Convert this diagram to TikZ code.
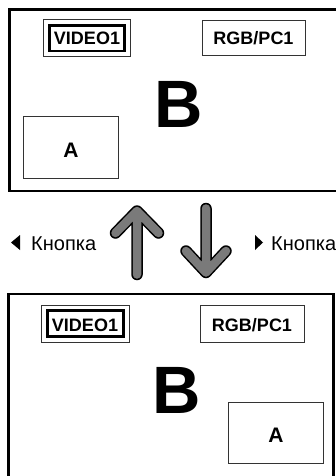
\documentclass[tikz,border=0pt]{standalone}
\usepackage{fontspec}
\setmainfont{Liberation Sans}
\begin{document}
\begin{tikzpicture}[x=1pt,y=-1pt,
  screen/.style={draw=black,line width=2.5pt},
  thinbox/.style={draw=black!80,line width=1pt},
  thickbox/.style={draw=black,line width=2.2pt},
  lbl/.style={inner sep=0pt,anchor=base,font=\bfseries\fontsize{18}{20}\selectfont},
  big/.style={inner sep=0pt,anchor=base,font=\bfseries\fontsize{67}{70}\selectfont},
  alabel/.style={inner sep=0pt,anchor=base,font=\bfseries\fontsize{21}{24}\selectfont},
  btn/.style={inner sep=0pt,anchor=base west,font=\fontsize{20}{24}\selectfont},
  arrowout/.style={draw=black,line width=11.5pt,line cap=round,line join=round},
  arrowin/.style={draw=black!52,line width=8.5pt,line cap=round,line join=round}]
\useasboundingbox (0,0) rectangle (335,476);
\fill[white] (0,0) rectangle (335,476);

% ---- top screen
\draw[screen] (9.7,9.5) rectangle (340,191);
\draw[thinbox] (43,20) rectangle (130,57);
\draw[thickbox] (49.5,25.5) rectangle (124.5,51);
\node[lbl] (v1) at (87,45) {VIDEO1};
\draw[thinbox] (202,21) rectangle (305,56);
\node[lbl] (r1) at (253.5,45) {RGB/PC1};
\node[big] (b1) at (179,128) {B};
\draw[thinbox] (23,117) rectangle (118,178);
\node[alabel] (a1) at (71,157) {A};

% ---- buttons
\fill (11,242.5) -- (20,235) -- (20,250) -- cycle;
\node[btn] (kl) at (31,250) {Кнопка};
\fill (263,242.5) -- (255,235) -- (255,250) -- cycle;
\node[btn] (kr) at (271,250) {Кнопка};

% ---- arrows
\draw[arrowout] (137,274.5) -- (137,211) (115.5,233) -- (137,211) -- (158.5,233);
\draw[arrowin]  (137,274.5) -- (137,211) (115.5,233) -- (137,211) -- (158.5,233);
\draw[arrowout] (206,208.5) -- (206,272.5) (186,251) -- (206,272.5) -- (226,251);
\draw[arrowin]  (206,208.5) -- (206,272.5) (186,251) -- (206,272.5) -- (226,251);

% ---- bottom screen
\draw[screen] (8.7,294) rectangle (333.5,480);
\draw[thinbox] (41,305) rectangle (129,342);
\draw[thickbox] (47.5,310.5) rectangle (123.5,336.5);
\node[lbl] (v2) at (85,331) {VIDEO1};
\draw[thinbox] (200,305) rectangle (304,342);
\node[lbl] (r2) at (252,331) {RGB/PC1};
\node[big] (b2) at (177,413) {B};
\draw[thinbox] (228,402) rectangle (323,463);
\node[alabel] (a2) at (276,442) {A};
\end{tikzpicture}
\end{document}
